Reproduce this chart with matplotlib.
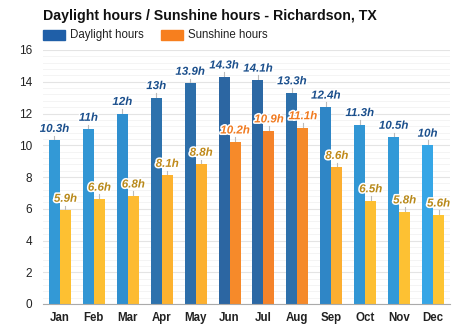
import matplotlib
matplotlib.use("Agg")
import matplotlib.pyplot as plt
import matplotlib.patheffects as pe
import numpy as np

plt.rcParams['font.family'] = ['Liberation Sans', 'DejaVu Sans']

months = ['Jan', 'Feb', 'Mar', 'Apr', 'May', 'Jun', 'Jul', 'Aug', 'Sep', 'Oct', 'Nov', 'Dec']
daylight = [10.3, 11, 12, 13, 13.9, 14.3, 14.1, 13.3, 12.4, 11.3, 10.5, 10]
sunshine = [5.9, 6.6, 6.8, 8.1, 8.8, 10.2, 10.9, 11.1, 8.6, 6.5, 5.8, 5.6]
daylight_labels = ['10.3h', '11h', '12h', '13h', '13.9h', '14.3h', '14.1h', '13.3h',
                   '12.4h', '11.3h', '10.5h', '10h']
sunshine_labels = ['5.9h', '6.6h', '6.8h', '8.1h', '8.8h', '10.2h', '10.9h', '11.1h',
                   '8.6h', '6.5h', '5.8h', '5.6h']

# per-month bar colours (lighter in winter, darker in summer)
day_colors = ['#3399d6', '#3296d4', '#2f8fcf', '#2d72ad', '#2d6ea9', '#2c66a2',
              '#2c68a4', '#2d70ab', '#2f86c6', '#3196d4', '#3299d7', '#36a6e6']
sun_colors = ['#fdc032', '#fdbf32', '#fdbb32', '#fdb22f', '#fcb02f', '#f68a2a',
              '#f5832a', '#f58a2a', '#fcae30', '#fdbf32', '#fdc133', '#fdc433']
sun_label_colors = ['#b8891a', '#b8891a', '#b8891a', '#c08a1a', '#c08a1a', '#f07a20',
                    '#f07a20', '#f07a20', '#c08a1a', '#b8891a', '#b8891a', '#b8891a']
day_label_color = '#1b4f8c'

fig = plt.figure(figsize=(4.74, 3.31), dpi=100)
ax = fig.add_axes([43 / 474, 1 - 304 / 331, 407 / 474, 254 / 331])

x = np.arange(len(months))
w = 0.325
ax.bar(x - w / 2, daylight, w, color=day_colors, zorder=3)
ax.bar(x + w / 2, sunshine, w, color=sun_colors, zorder=3)

stroke = [pe.withStroke(linewidth=2.2, foreground='white')]
for i in range(len(months)):
    for xi, v, lab, col in ((x[i] - w / 2, daylight[i], daylight_labels[i], day_label_color),
                            (x[i] + w / 2, sunshine[i], sunshine_labels[i], sun_label_colors[i])):
        ax.plot([xi, xi], [v, v + 0.3], color='#bbbbbb', lw=0.8, zorder=2)
        ax.text(xi, v + 0.35, lab, ha='center', va='bottom', fontsize=8.3,
                fontweight='bold', style='italic', color=col, path_effects=stroke, zorder=4)

ax.set_xlim(-0.5, 11.5)
ax.set_ylim(0, 16)
ax.set_yticks(np.arange(0, 17, 2))
ax.set_yticks(np.arange(0, 16.01, 0.4), minor=True)
ax.grid(axis='y', which='major', color='#e4e4e4', lw=0.8, zorder=0)
ax.grid(axis='y', which='minor', color='#f2f2f2', lw=0.6, zorder=0)
ax.set_xticks(x)
ax.set_xticklabels(months, fontweight='bold', fontsize=8.3)
ax.tick_params(axis='both', which='both', length=0, labelcolor='#222222')
ax.tick_params(axis='y', labelsize=8.5, pad=8)
ax.tick_params(axis='x', pad=6)
for s in ['top', 'right', 'left']:
    ax.spines[s].set_visible(False)
ax.spines['bottom'].set_color('#aaaaaa')
ax.spines['bottom'].set_zorder(5)

fig.text(43 / 474, 1 - 16 / 331, 'Daylight hours / Sunshine hours - Richardson, TX',
         fontsize=10.2, fontweight='bold', va='center', ha='left', color='#111111')

# legend
fig.patches.append(plt.Rectangle((43 / 474, 1 - 40 / 331), 22 / 474, 10 / 331,
                                 color='#1f5fa8', transform=fig.transFigure))
fig.text(70 / 474, 1 - 35 / 331, 'Daylight hours', fontsize=8.3, va='center', color='#222222')
fig.patches.append(plt.Rectangle((161 / 474, 1 - 40 / 331), 22 / 474, 10 / 331,
                                 color='#f77f1e', transform=fig.transFigure))
fig.text(188 / 474, 1 - 35 / 331, 'Sunshine hours', fontsize=8.3, va='center', color='#222222')

fig.savefig('out.png', dpi=100)
